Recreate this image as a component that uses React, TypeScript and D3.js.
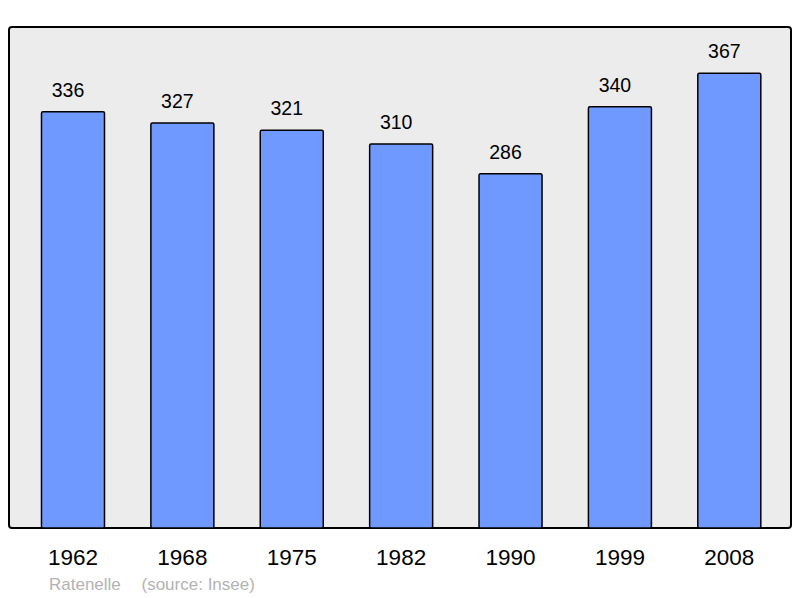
import * as d3 from "d3";
import { useEffect, useRef } from "react";

// population by census year
const years = ["1962", "1968", "1975", "1982", "1990", "1999", "2008"];
const population = [336, 327, 321, 310, 286, 340, 367];

const App = () => {
  const svgRef = useRef<SVGSVGElement>(null);

  const width = 800;
  const height = 598;
  const panel = { left: 9, top: 27, right: 791, bottom: 528 };

  useEffect(() => {
    const svg = d3.select(svgRef.current);
    svg.selectAll("*").remove();

    const x = d3
      .scaleBand()
      .domain(years)
      .range([18.3, 784])
      .paddingInner(0.424)
      .paddingOuter(0.212);

    const y = d3
      .scaleLinear()
      .domain([0, 404.4])
      .range([panel.bottom, panel.top]);

    // panel
    svg
      .append("rect")
      .attr("x", panel.left)
      .attr("y", panel.top)
      .attr("width", panel.right - panel.left)
      .attr("height", panel.bottom - panel.top)
      .attr("rx", 3)
      .style("fill", "#ececec")
      .style("stroke", "#000")
      .style("stroke-width", 2);

    const data = years.map((yr, i) => ({ yr, v: population[i] }));

    // bars
    svg
      .selectAll(".bar")
      .data(data)
      .enter()
      .append("rect")
      .attr("class", "bar")
      .attr("x", (d) => x(d.yr)!)
      .attr("y", (d) => y(d.v))
      .attr("width", x.bandwidth())
      .attr("height", (d) => y(0) - y(d.v))
      .attr("rx", 1.5)
      .style("fill", "#7099ff")
      .style("stroke", "#000")
      .style("stroke-width", 1.5);

    // value labels (sit a bit left of the bar centre, as in the original)
    svg
      .selectAll(".val")
      .data(data)
      .enter()
      .append("text")
      .attr("class", "val")
      .attr("x", (d) => x(d.yr)! + x.bandwidth() / 2 - 5)
      .attr("y", (d) => y(d.v) - 15)
      .attr("text-anchor", "middle")
      .style("font-family", "'Liberation Sans', Arial, sans-serif")
      .style("font-size", "19.5px")
      .style("fill", "#000")
      .text((d) => d.v);

    // year labels
    svg
      .selectAll(".yr")
      .data(data)
      .enter()
      .append("text")
      .attr("class", "yr")
      .attr("x", (d) => x(d.yr)! + x.bandwidth() / 2)
      .attr("y", 565)
      .attr("text-anchor", "middle")
      .style("font-family", "'Liberation Sans', Arial, sans-serif")
      .style("font-size", "22.5px")
      .style("fill", "#000")
      .text((d) => d.yr);

    // credits
    const credit = svg
      .append("g")
      .style("font-family", "'Liberation Sans', Arial, sans-serif")
      .style("font-size", "17px")
      .style("fill", "#b3b3b3");
    credit.append("text").attr("x", 49).attr("y", 590).text("Ratenelle");
    credit.append("text").attr("x", 141.5).attr("y", 590).text("(source: Insee)");
  }, []);

  return (
    <svg
      ref={svgRef}
      width={width}
      height={height}
      style={{ position: "absolute", left: 0, top: 0, background: "#fff" }}
    ></svg>
  );
};

export default App;
